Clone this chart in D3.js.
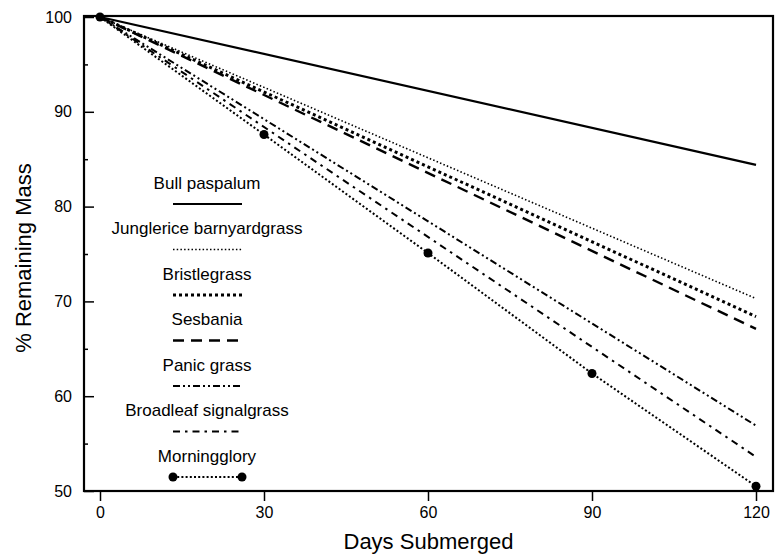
<!DOCTYPE html>
<html>
<head>
<meta charset="utf-8">
<script src="https://cdn.jsdelivr.net/npm/d3@7"></script>
<style>
  body { margin: 0; background: #fff; }
  svg { font-family: "Liberation Sans", Arial, sans-serif; }
</style>
</head>
<body>
<svg id="chart" width="776" height="557"></svg>
<script>
// straight lines: value at day 0 and day 120
const lineDays = [0, 120];
const bullPaspalum = [100, 84.4];
const junglerice = [100, 70.3];
const bristlegrass = [100, 68.4];
const sesbania = [100, 67.1];
const panicGrass = [100, 56.9];
const broadleaf = [100, 53.6];

// morningglory has measured points
const morningDays = [0, 30, 60, 90, 120];
const morningglory = [100, 87.6, 75.1, 62.4, 50.5];

const xTicks = [0, 30, 60, 90, 120];
const yTicks = [50, 60, 70, 80, 90, 100];
const yMinorTicks = [55, 65, 75, 85, 95];

const series = [
  { name: "Bull paspalum", days: lineDays, values: bullPaspalum, dash: null, width: 2.2 },
  { name: "Junglerice barnyardgrass", days: lineDays, values: junglerice, dash: "1.5,2.2", width: 1.6 },
  { name: "Bristlegrass", days: lineDays, values: bristlegrass, dash: "3,3", width: 3 },
  { name: "Sesbania", days: lineDays, values: sesbania, dash: "11,7", width: 2.4 },
  { name: "Panic grass", days: lineDays, values: panicGrass, dash: "7,3,2,3,2,3", width: 2 },
  { name: "Broadleaf signalgrass", days: lineDays, values: broadleaf, dash: "7,5,2.5,5", width: 2 },
  { name: "Morningglory", days: morningDays, values: morningglory, dash: "2,2.2", width: 2, dots: true }
];

const svg = d3.select("#chart");

// plot frame
const frame = { left: 84, right: 773, top: 16, bottom: 491 };

const x = d3.scaleLinear().domain([0, 120]).range([100, 756]);
const y = d3.scaleLinear().domain([50, 100]).range([491, 17]);

svg.append("rect")
  .attr("x", frame.left).attr("y", frame.top)
  .attr("width", frame.right - frame.left)
  .attr("height", frame.bottom - frame.top)
  .attr("fill", "none").attr("stroke", "#000").attr("stroke-width", 2.2);

// y axis, ticks point inward
const yAxis = svg.append("g")
  .attr("transform", `translate(${frame.left},0)`)
  .call(d3.axisLeft(y).tickValues(yTicks).tickSize(-10).tickSizeOuter(0).tickPadding(12));
yAxis.select(".domain").remove();
yAxis.selectAll("text").attr("font-size", 16).attr("font-family", null);
yAxis.selectAll("line").attr("stroke-width", 1.5);

const yMinor = svg.append("g")
  .attr("transform", `translate(${frame.left},0)`)
  .call(d3.axisLeft(y).tickValues(yMinorTicks).tickSize(-4).tickSizeOuter(0).tickFormat(""));
yMinor.select(".domain").remove();
yMinor.selectAll("line").attr("stroke-width", 1.5);

// x axis, ticks point outward
const xAxis = svg.append("g")
  .attr("transform", `translate(0,${frame.bottom})`)
  .call(d3.axisBottom(x).tickValues(xTicks).tickSize(10).tickSizeOuter(0).tickPadding(6));
xAxis.select(".domain").remove();
xAxis.selectAll("text").attr("font-size", 16).attr("font-family", null);
xAxis.selectAll("line").attr("stroke-width", 1.5);

// axis titles
svg.append("text")
  .attr("x", (frame.left + frame.right) / 2)
  .attr("y", 549)
  .attr("text-anchor", "middle")
  .attr("font-size", 22)
  .text("Days Submerged");

svg.append("text")
  .attr("transform", "translate(31,258) rotate(-90)")
  .attr("text-anchor", "middle")
  .attr("font-size", 22)
  .text("% Remaining Mass");

// data lines
const line = d3.line().x(d => x(d[0])).y(d => y(d[1]));

series.forEach(s => {
  const pts = s.days.map((d, i) => [d, s.values[i]]);
  svg.append("path")
    .attr("d", line(pts))
    .attr("fill", "none")
    .attr("stroke", "#000")
    .attr("stroke-width", s.width)
    .attr("stroke-dasharray", s.dash);
  if (s.dots) {
    svg.selectAll(null)
      .data(pts)
      .join("circle")
      .attr("cx", d => x(d[0]))
      .attr("cy", d => y(d[1]))
      .attr("r", 4.5)
      .attr("fill", "#000");
  }
});

// legend
const legend = svg.append("g");
const legendX = 207;
const sampleX0 = 173;
const sampleX1 = 242;

series.forEach((s, i) => {
  const ty = 183 + i * 45.5;
  const ly = 204 + i * 45.5;
  legend.append("text")
    .attr("x", legendX)
    .attr("y", ty)
    .attr("dy", "0.35em")
    .attr("text-anchor", "middle")
    .attr("font-size", 17)
    .text(s.name);
  legend.append("line")
    .attr("x1", sampleX0).attr("x2", sampleX1)
    .attr("y1", ly).attr("y2", ly)
    .attr("stroke", "#000")
    .attr("stroke-width", s.width)
    .attr("stroke-dasharray", s.dash);
  if (s.dots) {
    [sampleX0, sampleX1].forEach(cx => {
      legend.append("circle")
        .attr("cx", cx).attr("cy", ly).attr("r", 4.5).attr("fill", "#000");
    });
  }
});
</script>
</body>
</html>
